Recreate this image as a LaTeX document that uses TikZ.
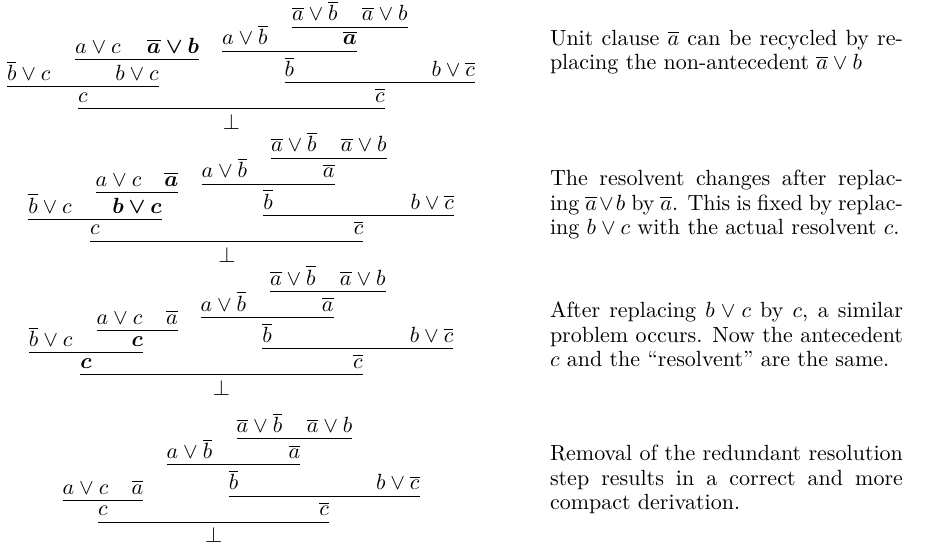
\documentclass[tikz,border=0pt]{standalone}
\usepackage{amsmath,bm}
\usetikzlibrary{calc}
\tikzset{
  fml/.style={inner sep=0pt, outer sep=0pt, anchor=base},
  lft/.style={fml, anchor=base west},
  rgt/.style={fml, anchor=base east},
  rulebar/.style={line width=0.4pt},
  note/.style={inner sep=0pt, outer sep=0pt, anchor=north west, text width=160.4pt,
    align=justify, font=\fontsize{10}{11.2}\selectfont}
}
% inference bar under two premises
\newcommand{\infbar}[2]{\draw[rulebar] ([yshift=-2.86pt]#1.base west) -- ([yshift=-2.86pt]#2.base east);}
\begin{document}
\begin{tikzpicture}[x=0.4545pt, y=-0.4545pt]
\useasboundingbox (0,0) rectangle (925,547);

% ---------------- first derivation ----------------
\begin{scope}[shift={(0,108.5)}]
  \node[lft] (a1) at (292,-87.6) {$\overline{a}\vee\overline{b}$};
  \node[rgt] (b1) at (407.5,-87.6) {$\overline{a}\vee b$};
  \infbar{a1}{b1}
  \coordinate (ma1) at ($(a1.base west)!0.5!(b1.base east)$);
  \node[fml] (ca1) at (ma1 |- 0,-63.5) {$\bm{\overline{a}}$};
  \node[lft] (d1) at (222,-63.5) {$a\vee\overline{b}$};
  \infbar{d1}{ca1}
  \coordinate (mb1) at ($(d1.base west)!0.5!(ca1.base east)$);
  \node[fml] (cb1) at (mb1 |- 0,-32.15) {$\overline{b}$};
  \node[rgt] (e1) at (475,-32.15) {$b\vee\overline{c}$};
  \infbar{cb1}{e1}
  \coordinate (me1) at ($(cb1.base west)!0.5!(e1.base east)$);
  \node[fml] (ce1) at (me1 |- 0,-6.3) {$\overline{c}$};
  \node[lft] (f1) at (75,-55.1) {$a\vee c$};
  \node[rgt] (g1) at (199,-55.1) {$\bm{\overline{a}\vee b}$};
  \infbar{f1}{g1}
  \coordinate (mc1) at ($(f1.base west)!0.5!(g1.base east)$);
  \node[fml] (cc1) at (mc1 |- 0,-27.95) {$b\vee c$};
  \node[lft] (h1) at (7,-27.95) {$\overline{b}\vee c$};
  \infbar{h1}{cc1}
  \coordinate (md1) at ($(h1.base west)!0.5!(cc1.base east)$);
  \node[fml] (cd1) at (md1 |- 0,-6.3) {$c$};
  \infbar{cd1}{ce1}
  \coordinate (mf1) at ($(cd1.base west)!0.5!(ce1.base east)$);
  \node[fml] (z1) at (mf1 |- 0,20.9) {$\bot$};
\end{scope}

% ---------------- second derivation ----------------
\begin{scope}[shift={(0,241.2)}]
  \node[lft] (a2) at (271,-89.4) {$\overline{a}\vee\overline{b}$};
  \node[rgt] (b2) at (386.5,-89.4) {$\overline{a}\vee b$};
  \infbar{a2}{b2}
  \coordinate (ma2) at ($(a2.base west)!0.5!(b2.base east)$);
  \node[fml] (ca2) at (ma2 |- 0,-63.5) {$\overline{a}$};
  \node[lft] (d2) at (201.5,-63.5) {$a\vee\overline{b}$};
  \infbar{d2}{ca2}
  \coordinate (mb2) at ($(d2.base west)!0.5!(ca2.base east)$);
  \node[fml] (cb2) at (mb2 |- 0,-32.15) {$\overline{b}$};
  \node[rgt] (e2) at (454,-32.15) {$b\vee\overline{c}$};
  \infbar{cb2}{e2}
  \coordinate (me2) at ($(cb2.base west)!0.5!(e2.base east)$);
  \node[fml] (ce2) at (me2 |- 0,-6.3) {$\overline{c}$};
  \node[lft] (f2) at (95.7,-55.1) {$a\vee c$};
  \node[rgt] (g2) at (178.3,-55.1) {$\bm{\overline{a}}$};
  \infbar{f2}{g2}
  \coordinate (mc2) at ($(f2.base west)!0.5!(g2.base east)$);
  \node[fml] (cc2) at (mc2 |- 0,-27.95) {$\bm{b\vee c}$};
  \node[lft] (h2) at (28.3,-27.95) {$\overline{b}\vee c$};
  \infbar{h2}{cc2}
  \coordinate (md2) at ($(h2.base west)!0.5!(cc2.base east)$);
  \node[fml] (cd2) at (md2 |- 0,-6.3) {$c$};
  \infbar{cd2}{ce2}
  \coordinate (mf2) at ($(cd2.base west)!0.5!(ce2.base east)$);
  \node[fml] (z2) at (mf2 |- 0,20.9) {$\bot$};
\end{scope}

% ---------------- third derivation ----------------
\begin{scope}[shift={(0,374.5)}]
  \node[lft] (a3) at (270,-89.4) {$\overline{a}\vee\overline{b}$};
  \node[rgt] (b3) at (385.5,-89.4) {$\overline{a}\vee b$};
  \infbar{a3}{b3}
  \coordinate (ma3) at ($(a3.base west)!0.5!(b3.base east)$);
  \node[fml] (ca3) at (ma3 |- 0,-63.5) {$\overline{a}$};
  \node[lft] (d3) at (200.5,-63.5) {$a\vee\overline{b}$};
  \infbar{d3}{ca3}
  \coordinate (mb3) at ($(d3.base west)!0.5!(ca3.base east)$);
  \node[fml] (cb3) at (mb3 |- 0,-32.15) {$\overline{b}$};
  \node[rgt] (e3) at (453.3,-32.15) {$b\vee\overline{c}$};
  \infbar{cb3}{e3}
  \coordinate (me3) at ($(cb3.base west)!0.5!(e3.base east)$);
  \node[fml] (ce3) at (me3 |- 0,-6.3) {$\overline{c}$};
  \node[lft] (f3) at (96.7,-50.1) {$a\vee c$};
  \node[rgt] (g3) at (177.7,-50.1) {$\overline{a}$};
  \infbar{f3}{g3}
  \coordinate (mc3) at ($(f3.base west)!0.5!(g3.base east)$);
  \node[fml] (cc3) at (mc3 |- 0,-28.2) {$\bm{c}$};
  \node[lft] (h3) at (29,-28.2) {$\overline{b}\vee c$};
  \infbar{h3}{cc3}
  \coordinate (md3) at ($(h3.base west)!0.5!(cc3.base east)$);
  \node[fml] (cd3) at (md3 |- 0,-6.3) {$\bm{c}$};
  \infbar{cd3}{ce3}
  \coordinate (mf3) at ($(cd3.base west)!0.5!(ce3.base east)$);
  \node[fml] (z3) at (mf3 |- 0,20.9) {$\bot$};
\end{scope}

% ---------------- fourth derivation ----------------
\begin{scope}[shift={(0,522)}]
  \node[lft] (a4) at (236.7,-89.4) {$\overline{a}\vee\overline{b}$};
  \node[rgt] (b4) at (352.3,-89.4) {$\overline{a}\vee b$};
  \infbar{a4}{b4}
  \coordinate (ma4) at ($(a4.base west)!0.5!(b4.base east)$);
  \node[fml] (ca4) at (ma4 |- 0,-63.5) {$\overline{a}$};
  \node[lft] (d4) at (166.7,-63.5) {$a\vee\overline{b}$};
  \infbar{d4}{ca4}
  \coordinate (mb4) at ($(d4.base west)!0.5!(ca4.base east)$);
  \node[fml] (cb4) at (mb4 |- 0,-32.15) {$\overline{b}$};
  \node[rgt] (e4) at (419.5,-32.15) {$b\vee\overline{c}$};
  \infbar{cb4}{e4}
  \coordinate (me4) at ($(cb4.base west)!0.5!(e4.base east)$);
  \node[fml] (ce4) at (me4 |- 0,-6.3) {$\overline{c}$};
  \node[lft] (f4) at (62.7,-27.95) {$a\vee c$};
  \node[rgt] (g4) at (143.3,-27.95) {$\overline{a}$};
  \infbar{f4}{g4}
  \coordinate (mc4) at ($(f4.base west)!0.5!(g4.base east)$);
  \node[fml] (cd4) at (mc4 |- 0,-6.3) {$c$};
  \infbar{cd4}{ce4}
  \coordinate (mf4) at ($(cd4.base west)!0.5!(ce4.base east)$);
  \node[fml] (z4) at (mf4 |- 0,20.9) {$\bot$};
\end{scope}

% ---------------- explanations ----------------
\node[note] (n1) at (550,30) {Unit clause $\overline{a}$ can be recycled by re-\linebreak placing the non-antecedent $\overline{a}\vee b$};
\node[note] (n2) at (550,170.2) {The resolvent changes after replac-\linebreak ing $\overline{a}\vee b$ by $\overline{a}$. This is fixed by replac-\linebreak ing $b\vee c$ with the actual resolvent~$c$.};
\node[note] (n3) at (550,301.7) {After replacing $b\vee c$ by $c$, a similar\linebreak problem occurs. Now the antecedent\linebreak $c$ and the ``resolvent'' are the same.};
\node[note] (n4) at (550,445.2) {Removal of the redundant resolution\linebreak step results in a correct and more\linebreak compact derivation.};
\end{tikzpicture}
\end{document}
